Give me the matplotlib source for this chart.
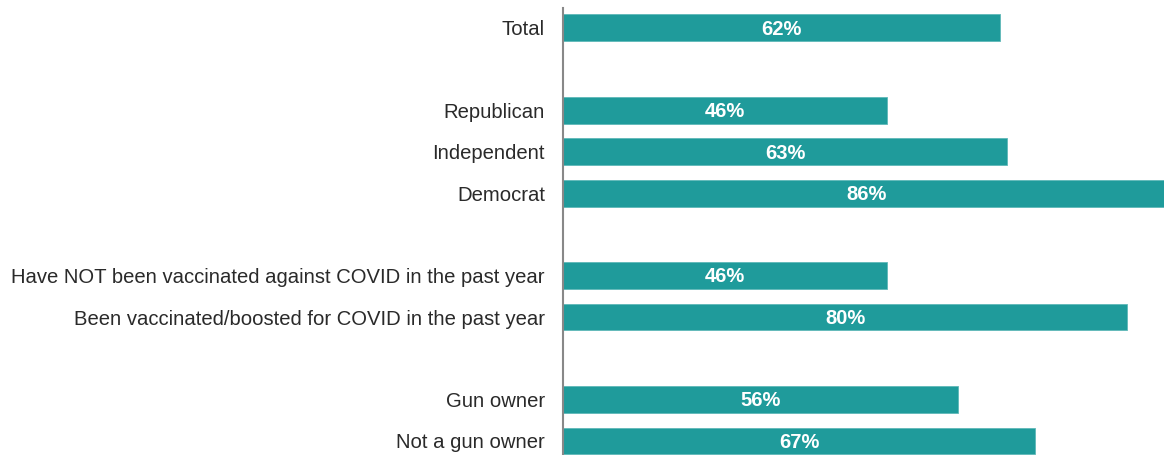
import numpy as np
import matplotlib.pyplot as plt

plt.rcParams['font.family'] = ['Liberation Sans', 'DejaVu Sans']

labels = ["Total", "Republican", "Independent", "Democrat",
          "Have NOT been vaccinated against COVID in the past year",
          "Been vaccinated/boosted for COVID in the past year",
          "Gun owner", "Not a gun owner"]
values = [62, 46, 63, 86, 46, 80, 56, 67]
# row slots, with empty slots between groups
slots = [0, 2, 3, 4, 6, 7, 9, 10]

color = "#1f9b9b"

fig = plt.figure(figsize=(11.64, 4.55), dpi=100)
ax = fig.add_axes([563 / 1164, 0, 1 - 563 / 1164, 1 - 8 / 455])

bars = ax.barh(slots, values, height=0.65, color=color, edgecolor="#5fb8b8", linewidth=0.6)
for s, v in zip(slots, values):
    ax.text(v / 2, s + 0.03, f"{v}%", ha="center", va="center", color="white",
            fontsize=14.5, fontweight="bold")

ax.set_xlim(0, 601 / 7.05)
ax.set_ylim(10.34, -0.48)
ax.set_yticks(slots)
ax.set_yticklabels(labels, fontsize=14.6, color="#2a2a2a")
ax.tick_params(axis="y", length=0, pad=13)
ax.set_xticks([])
for sp in ["top", "right", "bottom"]:
    ax.spines[sp].set_visible(False)
ax.spines["left"].set_color("#888888")
ax.spines["left"].set_linewidth(1.5)

fig.savefig("out.png", dpi=100)
